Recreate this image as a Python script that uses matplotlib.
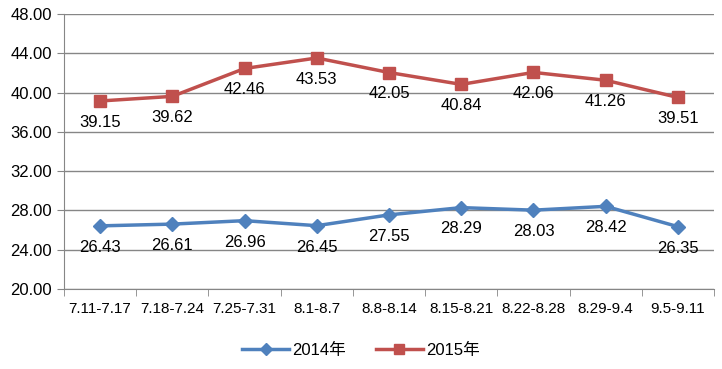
import numpy as np
import matplotlib
matplotlib.use("Agg")
import matplotlib.pyplot as plt

plt.rcParams['font.family'] = ['Liberation Sans', 'Noto Sans CJK SC', 'DejaVu Sans']

weeks = ["7.11-7.17", "7.18-7.24", "7.25-7.31", "8.1-8.7", "8.8-8.14",
         "8.15-8.21", "8.22-8.28", "8.29-9.4", "9.5-9.11"]
v2014 = [26.43, 26.61, 26.96, 26.45, 27.55, 28.29, 28.03, 28.42, 26.35]
v2015 = [39.15, 39.62, 42.46, 43.53, 42.05, 40.84, 42.06, 41.26, 39.51]

fig = plt.figure(figsize=(7.22, 3.69), dpi=100)
ax = fig.add_axes([0.0886, 0.2168, 0.9004, 0.745])

x = np.arange(len(weeks))
ax.plot(x, v2014, '-', color='#4f81bd', lw=2.5, marker='D', ms=7, label='2014年')
ax.plot(x, v2015, '-', color='#c0504d', lw=2.5, marker='s', ms=8, label='2015年')

for i in range(len(weeks)):
    ax.annotate(f"{v2014[i]:.2f}", (x[i], v2014[i]), xytext=(0, -10), textcoords='offset points',
                ha='center', va='top', fontsize=12)
    ax.annotate(f"{v2015[i]:.2f}", (x[i], v2015[i]), xytext=(0, -10), textcoords='offset points',
                ha='center', va='top', fontsize=12)

ax.set_xlim(-0.5, len(weeks) - 0.5)
ax.set_ylim(20, 48)
ax.set_yticks(np.arange(20, 49, 4))
ax.set_yticklabels([f"{t:.2f}" for t in np.arange(20, 49, 4)])
ax.set_xticks(x)
ax.set_xticklabels(weeks)
ax.set_xticks(np.arange(-0.5, len(weeks)), minor=True)
ax.tick_params(axis='x', which='major', length=0, labelsize=11, pad=9)
ax.tick_params(axis='x', which='minor', length=5, color='#868686')
ax.tick_params(axis='y', length=5, color='#868686', labelsize=12)
ax.grid(axis='y', color='#868686', lw=1)
ax.set_axisbelow(True)
for s in ['top', 'right']:
    ax.spines[s].set_visible(False)
for s in ['left', 'bottom']:
    ax.spines[s].set_color('#868686')

fig.legend(loc='lower center', ncol=2, frameon=False, fontsize=12,
           bbox_to_anchor=(0.5, -0.01), handlelength=2.8, handletextpad=0.2,
           columnspacing=1.8, markerscale=0.85)

fig.savefig("out.png", dpi=100)
